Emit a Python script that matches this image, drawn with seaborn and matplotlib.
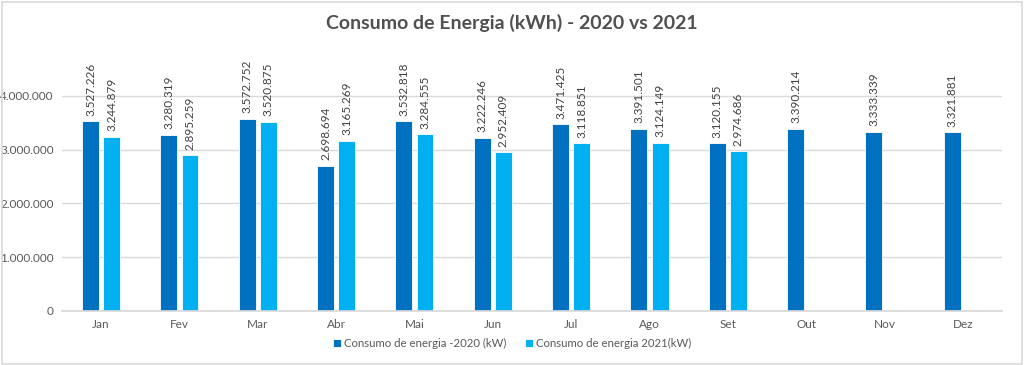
"""
Consumo de Energia (kWh) - 2020 vs 2021
"""
import numpy as np
import pandas as pd
import matplotlib
matplotlib.use("Agg")
import matplotlib.pyplot as plt
import seaborn as sns
from matplotlib.patches import Rectangle

# Data
months = ['Jan', 'Fev', 'Mar', 'Abr', 'Mai', 'Jun', 'Jul', 'Ago', 'Set', 'Out', 'Nov', 'Dez']
consumo_2020 = [3527226, 3280319, 3572752, 2698694, 3532818, 3222246,
                3471425, 3391501, 3120155, 3390214, 3333339, 3321881]
consumo_2021 = [3244879, 2895259, 3520875, 3165269, 3284555, 2952409,
                3118851, 3124149, 2974686, np.nan, np.nan, np.nan]
series_names = ['Consumo de energia -2020 (kW)', 'Consumo de energia 2021(kW)']
colors = ['#0070C0', '#00B0F0']

df = pd.DataFrame({
    'mes': months * 2,
    'valor': consumo_2020 + consumo_2021,
    'serie': [series_names[0]] * 12 + [series_names[1]] * 12,
})

sns.set_theme(style='white')
plt.rcParams['font.family'] = ['Lato', 'DejaVu Sans']

fig = plt.figure(figsize=(10.24, 3.65), dpi=100)
ax = fig.add_axes([0.0605, 0.148, 0.918, 0.6775])

sns.barplot(data=df, x='mes', y='valor', hue='serie', order=months,
            hue_order=series_names, palette=colors, saturation=1,
            width=0.54, gap=0.2, edgecolor='white', linewidth=0.6,
            errorbar=None, ax=ax)

thousands = lambda v: f"{v:,.0f}".replace(',', '.')

for cont in ax.containers:
    ax.bar_label(cont, fmt=thousands, rotation=90, padding=4,
                 fontsize=8.5, color='#404040')

ax.set_ylim(0, 4.6e6)
ax.set_yticks([0, 1e6, 2e6, 3e6, 4e6])
ax.set_yticklabels([thousands(v) for v in [0, 1e6, 2e6, 3e6, 4e6]])
ax.yaxis.grid(True, color='#D9D9D9', linewidth=1)
ax.set_axisbelow(True)
for s in ['top', 'right', 'left']:
    ax.spines[s].set_visible(False)
ax.spines['bottom'].set_color('#D9D9D9')
ax.tick_params(axis='both', length=0, labelsize=8.5, colors='#595959')
ax.tick_params(axis='x', pad=6)
ax.tick_params(axis='y', pad=6)
ax.set_xlabel('')
ax.set_ylabel('')

ax.legend(loc='center', bbox_to_anchor=(0.5, 0.058), bbox_transform=fig.transFigure,
          ncol=2, frameon=False, fontsize=8.2, handlelength=0.7, handleheight=0.7,
          handletextpad=0.3, columnspacing=1.6, labelcolor='#595959')

fig.text(0.5, 0.937, 'Consumo de Energia (kWh) - 2020 vs 2021', ha='center', va='center',
         fontsize=14, fontweight='bold', color='#505050')

fig.patches.append(Rectangle((0.002, 0.004), 0.996, 0.99, transform=fig.transFigure,
                             fill=False, edgecolor='#D9D9D9', linewidth=1.2))

fig.savefig('out.png', dpi=100)
